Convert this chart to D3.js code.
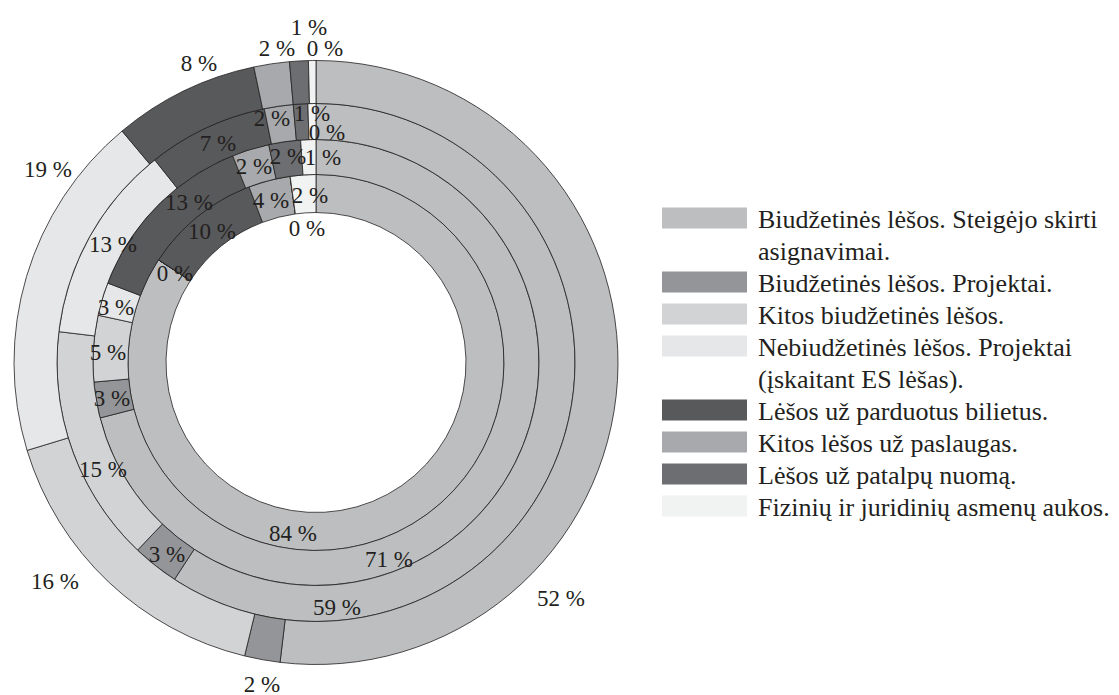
<!DOCTYPE html>
<html>
<head>
<meta charset="utf-8">
<script src="https://cdn.jsdelivr.net/npm/d3@7/dist/d3.min.js"></script>
<style>
  body { margin: 0; background: #fff; }
  text { font-family: "Liberation Serif", "DejaVu Serif", serif; fill: #231f20; }
</style>
</head>
<body>
<svg width="1119" height="695"></svg>
<script>
const categories = [
  'Biudžetinės lėšos. Steigėjo skirti asignavimai.',
  'Biudžetinės lėšos. Projektai.',
  'Kitos biudžetinės lėšos.',
  'Nebiudžetinės lėšos. Projektai (įskaitant ES lėšas).',
  'Lėšos už parduotus bilietus.',
  'Kitos lėšos už paslaugas.',
  'Lėšos už patalpų nuomą.',
  'Fizinių ir juridinių asmenų aukos.'
];
// legend lines as they wrap in the picture
const legendLines = [
  ['Biudžetinės lėšos. Steigėjo skirti', 'asignavimai.'],
  ['Biudžetinės lėšos. Projektai.'],
  ['Kitos biudžetinės lėšos.'],
  ['Nebiudžetinės lėšos. Projektai', '(įskaitant ES lėšas).'],
  ['Lėšos už parduotus bilietus.'],
  ['Kitos lėšos už paslaugas.'],
  ['Lėšos už patalpų nuomą.'],
  ['Fizinių ir juridinių asmenų aukos.']
];

// rings, inner to outer (shares, %)
const ring1 = [84.2, 0, 0, 0, 10.0, 3.6, 0, 2.2];
const ring2 = [71.0, 2.6, 4.8, 2.4, 13.1, 2.7, 2.3, 1.1];
const ring3 = [59.2, 2.9, 14.8, 12.4, 7.5, 1.8, 0.9, 0.5];
const ring4 = [51.9, 1.9, 16.5, 18.6, 7.8, 1.9, 1.0, 0.4];

// printed labels (null = not shown)
const labels1 = ['84 %', '0 %', null, null, '10 %', '4 %', '0 %', '2 %'];
const labels2 = ['71 %', '3 %', '5 %', '3 %', '13 %', '2 %', '2 %', '1 %'];
const labels3 = ['59 %', '3 %', '15 %', '13 %', '7 %', '2 %', '1 %', '0 %'];
const labels4 = ['52 %', '2 %', '16 %', '19 %', '8 %', '2 %', '1 %', '0 %'];

const colors = ['#bcbec0', '#939598', '#d1d3d4', '#e6e7e8', '#58595b', '#a7a9ac', '#6d6e71', '#f1f2f2'];

// layout
const cx = 316, cy = 362.5;
const radii = [150, 188, 223, 259, 302];
// label offsets from the centre, hand placed as in the original
const labelOffsets = [
  [[-23, 170], [-141, -90], null, null, [-104, -132], [-45, -163], [-9, -135], [-6, -168]],
  [[73, 196], [-204, 35], [-208, -11], [-200, -56], [-127, -161], [-62, -197], [-28, -207], [7, -206]],
  [[21, 244], [-149, 191], [-213, 106], [-203, -119], [-98, -220], [-44, -245], [-4, -250], [11, -231]],
  [[245, 235], [-54, 321], [-261, 218], [-268, -194], [-117, -300], [-39, -315], [-7, -336], [9, -315]]
];

const rings = [ring1, ring2, ring3, ring4];
const ringLabels = [labels1, labels2, labels3, labels4];

const svg = d3.select('svg');
const g = svg.append('g').attr('transform', `translate(${cx},${cy})`);

const color = d3.scaleOrdinal().domain(categories).range(colors);
const pie = d3.pie().sort(null).value(d => d.value);

rings.forEach((vals, i) => {
  const arc = d3.arc().innerRadius(radii[i]).outerRadius(radii[i + 1]);
  const data = pie(vals.map((v, k) => ({ cat: categories[k], value: v })));
  g.append('g')
    .selectAll('path')
    .data(data).enter().append('path')
      .attr('d', arc)
      .attr('fill', d => color(d.data.cat))
      .attr('stroke', '#231f20')
      .attr('stroke-width', 0.8);
});

// labels on top of all rings
rings.forEach((vals, i) => {
  g.append('g')
    .selectAll('text')
    .data(ringLabels[i].map((t, k) => ({ t, off: labelOffsets[i][k] })).filter(d => d.t))
    .enter().append('text')
      .attr('x', d => d.off[0])
      .attr('y', d => d.off[1] + 8)
      .attr('text-anchor', 'middle')
      .attr('font-size', 23)
      .text(d => d.t);
});

// legend
const legend = svg.append('g').attr('transform', 'translate(662,218)');
const lineH = 32;
let row = 0;
legendLines.forEach((lines, k) => {
  legend.append('rect')
    .attr('x', 0)
    .attr('y', row * lineH - 10.5)
    .attr('width', 85)
    .attr('height', 21)
    .attr('fill', color(categories[k]));
  lines.forEach(line => {
    legend.append('text')
      .attr('x', 96)
      .attr('y', row * lineH + 10)
      .attr('font-size', 26)
      .text(line);
    row++;
  });
});
</script>
</body>
</html>
